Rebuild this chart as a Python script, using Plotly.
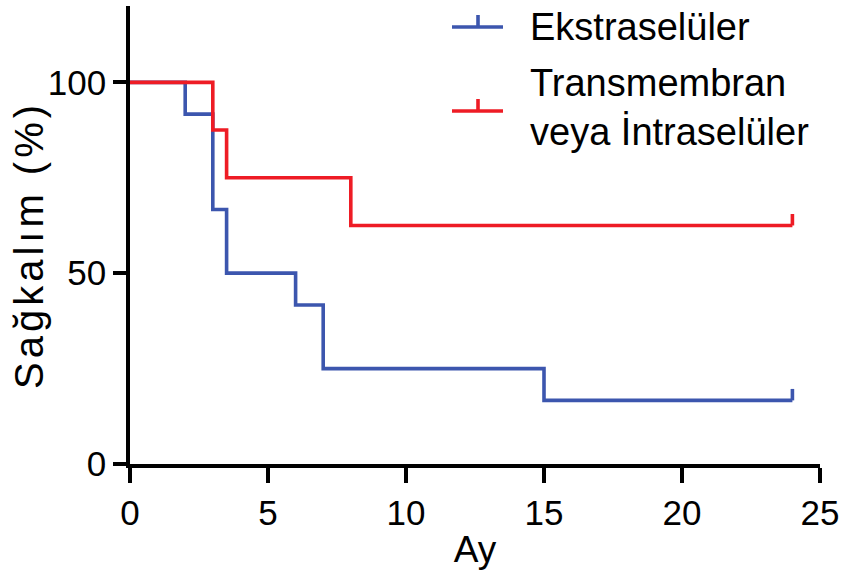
import plotly.graph_objects as go

# Data (Kaplan-Meier steps)
ext_time = [0, 2, 3, 3.5, 6, 7, 15, 24]
ext_surv = [100, 91.67, 66.67, 50, 41.67, 25, 16.67, 16.67]
ext_censor_time = [24]
ext_censor_surv = [16.67]

tm_time = [0, 3, 3.5, 8, 24]
tm_surv = [100, 87.5, 75, 62.5, 62.5]
tm_censor_time = [24]
tm_censor_surv = [62.5]

series_names = ["Ekstraselüler", "Transmembran<br>veya İntraselüler"]
x_ticks = [0, 5, 10, 15, 20, 25]
y_ticks = [0, 50, 100]

BLUE = "#3C56AE"
RED = "#EE1C25"
FONT = "Arial, Liberation Sans, sans-serif"
LW = 3.6
CENSOR_H = 3.0

W, H = 847, 572
ML, MR, MT, MB = 130, 27, 6, 108
PW, PH = W - ML - MR, H - MT - MB

fig = go.Figure()

for t, s, ct, cs, col in [
    (ext_time, ext_surv, ext_censor_time, ext_censor_surv, BLUE),
    (tm_time, tm_surv, tm_censor_time, tm_censor_surv, RED),
]:
    fig.add_trace(go.Scatter(x=t, y=s, mode="lines", line=dict(color=col, width=LW, shape="hv"),
                             showlegend=False, hoverinfo="skip"))
    for cx, cy in zip(ct, cs):
        fig.add_trace(go.Scatter(x=[cx, cx], y=[cy, cy + CENSOR_H], mode="lines",
                                 line=dict(color=col, width=LW), showlegend=False, hoverinfo="skip"))


def px2paper(px, py):
    return (px - ML) / PW, (H - MB - py) / PH


shapes = []
annotations = []
legend_items = [(series_names[0], BLUE, 27, 27), (series_names[1], RED, 111, 107)]
for name, col, ly, ty in legend_items:
    x0, y0 = px2paper(452, ly)
    x1, _ = px2paper(503, ly)
    xm, yt = px2paper(478, ly - 12)
    shapes.append(dict(type="line", xref="paper", yref="paper", x0=x0, x1=x1, y0=y0, y1=y0,
                       line=dict(color=col, width=LW)))
    shapes.append(dict(type="line", xref="paper", yref="paper", x0=xm, x1=xm, y0=y0, y1=yt,
                       line=dict(color=col, width=LW)))
    tx, tyy = px2paper(528, ty)
    annotations.append(dict(xref="paper", yref="paper", x=tx, y=tyy, xanchor="left", yanchor="middle",
                            text=name, showarrow=False, align="left",
                            font=dict(family=FONT, size=38, color="black")))

yx, yy = px2paper(29, 245)
annotations.append(dict(xref="paper", yref="paper", x=yx, y=yy, xanchor="center", yanchor="middle",
                        text='<span style="letter-spacing:4px">Sağkalım (%)</span>', textangle=-90,
                        showarrow=False, font=dict(family=FONT, size=40, color="black")))

fig.update_layout(
    width=W, height=H,
    margin=dict(l=ML, r=MR, t=MT, b=MB),
    plot_bgcolor="white", paper_bgcolor="white",
    font=dict(family=FONT, color="black"),
    shapes=shapes, annotations=annotations,
    xaxis=dict(range=[0, 25], tickvals=x_ticks, ticktext=[str(v) for v in x_ticks],
               showline=True, linewidth=LW, linecolor="black", mirror=False,
               ticks="outside", ticklen=15, tickwidth=LW, tickcolor="black",
               showgrid=False, zeroline=False, tickfont=dict(size=35), automargin=False,
               title=dict(text="Ay", font=dict(size=37), standoff=6)),
    yaxis=dict(range=[0, 120], tickvals=y_ticks, ticktext=[str(v) for v in y_ticks],
               showline=True, linewidth=LW, linecolor="black", automargin=False,
               ticks="outside", ticklen=13, tickwidth=LW, tickcolor="black",
               showgrid=False, zeroline=False, tickfont=dict(size=35)),
)

fig.write_html("out.html", config={"displayModeBar": False},
               post_script="document.body.style.margin='0';document.body.style.padding='0';")
